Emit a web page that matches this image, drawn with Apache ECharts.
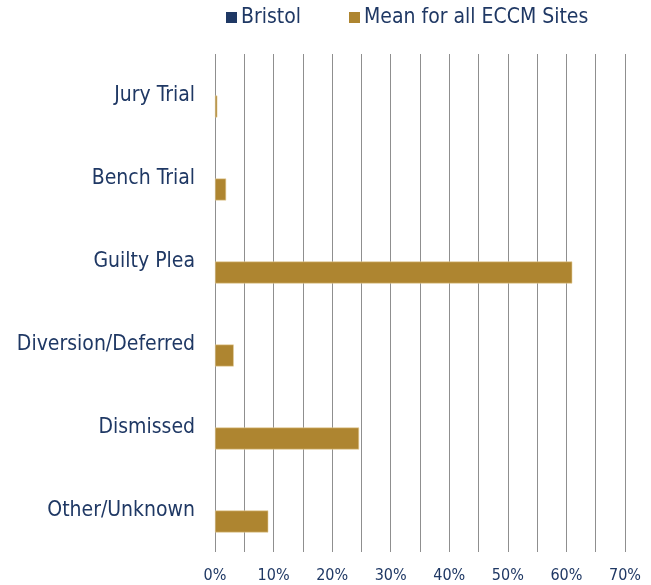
<!DOCTYPE html>
<html><head><meta charset="utf-8">
<script src="https://cdn.jsdelivr.net/npm/echarts@6/dist/echarts.min.js"></script>
<style>html,body{margin:0;padding:0;background:#fff}#c{width:651px;height:585px}</style>
</head><body><div id="c"></div>
<script>
const categories = ["Jury Trial","Bench Trial","Guilty Plea","Diversion/Deferred","Dismissed","Other/Unknown"];
const bristol = [0,0,0,0,0,0];
const meanAll = [0.4,1.9,61.0,3.2,24.6,9.1];
const seriesNames = ["Bristol","Mean for all ECCM Sites"];
const font = "'DejaVu Sans Condensed', 'DejaVu Sans'";
const textColor = "#1F3864";
const chart = echarts.init(document.getElementById('c'));
chart.setOption({
  animation:false,
  textStyle:{fontFamily:font},
  legend:{top:2,left:221,itemWidth:11,itemHeight:11,itemGap:48,icon:'rect',
    textStyle:{fontFamily:font,fontSize:21,color:textColor,padding:[0,0,0,-1]},
    itemStyle:{borderWidth:0},
    data:seriesNames},
  grid:{left:215,right:26,top:54,bottom:33,containLabel:false},
  xAxis:{type:'value',min:0,max:70,interval:5,
    axisLine:{show:false},axisTick:{show:false},
    splitLine:{lineStyle:{color:'#8f8f8f',width:1}},
    axisLabel:{margin:16,fontFamily:font,fontSize:16,color:textColor,
      formatter:v=> (v%10===0? v+'%':'')}},
  yAxis:{type:'category',data:categories,inverse:true,
    axisLine:{show:false},axisTick:{show:false},
    axisLabel:{margin:20,fontFamily:font,fontSize:21,color:textColor}},
  series:[
    {name:seriesNames[0],type:'bar',data:bristol,barGap:'0%',barCategoryGap:'47%',
      itemStyle:{color:'#1F3864'}},
    {name:seriesNames[1],type:'bar',data:meanAll,barGap:'0%',barCategoryGap:'47%',
      itemStyle:{color:'#AE8530',borderColor:'#E6CF9A',borderWidth:0.6}}
  ]
});
</script></body></html>
